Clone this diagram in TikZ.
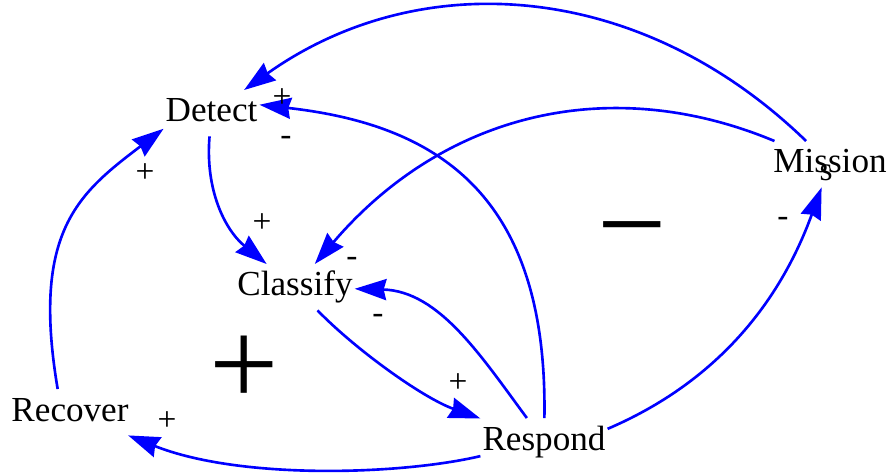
\documentclass[tikz,border=0pt]{standalone}
\usepackage{fontspec}
\setmainfont{Liberation Serif}
\usetikzlibrary{arrows.meta}
\definecolor{linkcolor}{RGB}{0,0,255}
\tikzset{
  cld var/.style={
    anchor=base,
    inner xsep=1pt,
    inner ysep=4pt,
    text height=14pt,
    text depth=4pt,
    font=\fontsize{20}{24}\selectfont
  },
  pol/.style={
    anchor=base,
    inner sep=0pt,
    font=\fontsize{19}{22}\selectfont
  },
  loop sign/.style={
    anchor=base,
    inner sep=0pt,
    font=\fontsize{70}{80}\selectfont
  },
  link/.style={
    draw=linkcolor,
    line width=1.5pt,
    -{Stealth[length=18pt,width=12pt,inset=1.5pt]}
  }
}

\begin{document}
\begin{tikzpicture}[x=0.02cm, y=0.02cm]
  \useasboundingbox (0,0) rectangle (891,-475);
  % variables
  \node[cld var] (detect) at (211.5,-122) {Detect};
  \node[cld var] (classify) at (295,-296) {Classify};
  \node[cld var] (recover) at (70,-421) {Recover};
  \node[cld var] (respond) at (544,-450) {Respond};
  \node[cld var] (mission) at (830,-173) {Mission};

  % causal links
  \draw[link] (mission) .. controls (640,20) and (420,35) .. (detect);
  \draw[link] (mission) .. controls (609,-72) and (443,-114) .. (classify);
  \draw[link] (respond) .. controls (548,-197) and (440,-125) .. (detect.10);
  \draw[link] (respond) .. controls (481,-356) and (439,-291) .. (classify);
  \draw[link] (classify) .. controls (356,-350) and (423,-398) .. (respond);
  \draw[link] (respond) .. controls (400,-475) and (240,-480) .. (recover);
  \draw[link] (recover.118) .. controls (31,-231) and (79,-193) .. (detect.198);
  \draw[link] (detect) .. controls (205,-190) and (225,-230) .. (classify);
  \draw[link] (respond.11) .. controls (717,-382) and (780,-302) .. (mission);

  % polarities
  \node[pol] (p1) at (282,-108) {+};
  \node[pol] (p2) at (286,-146) {-};
  \node[pol] (p3) at (145,-183) {+};
  \node[pol] (p4) at (262,-233) {+};
  \node[pol] (p5) at (352,-267) {-};
  \node[pol] (p6) at (378,-324) {-};
  \node[pol] (p7) at (458,-393) {+};
  \node[pol] (p8) at (167,-430) {+};
  \node[pol] (p9) at (783,-227) {-};
  \node[pol] (p10) at (826,-181) {s};

  % loop markers
  \node[loop sign] (r1) at (244,-406) {+};
  \node[loop sign] (b1) at (632,-266) {−};
\end{tikzpicture}
\end{document}
